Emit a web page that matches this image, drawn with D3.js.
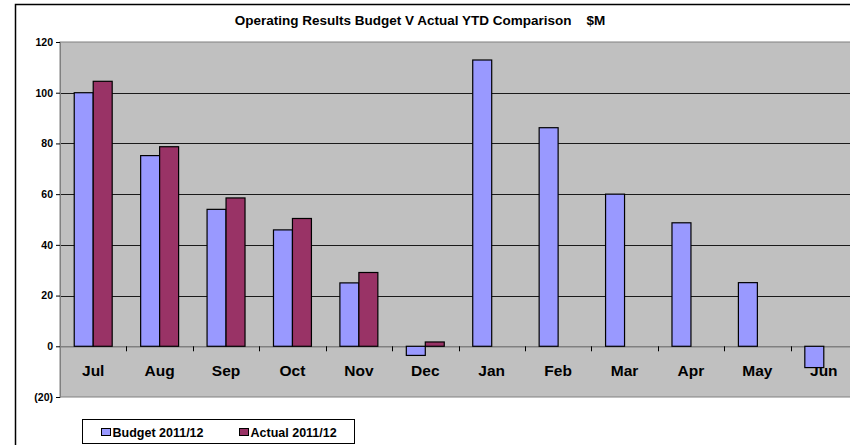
<!DOCTYPE html>
<html>
<head>
<meta charset="utf-8">
<script src="https://cdn.jsdelivr.net/npm/d3@7"></script>
<style>
  body { margin: 0; background: #fff; }
  text { font-family: Arial, "Liberation Sans", sans-serif; font-weight: bold; }
</style>
</head>
<body>
<div id="chart"></div>
<script>
// chart data
const months = ['Jul', 'Aug', 'Sep', 'Oct', 'Nov', 'Dec', 'Jan', 'Feb', 'Mar', 'Apr', 'May', 'Jun'];
const budget = [100, 75.2, 54, 45.9, 25, -3.6, 112.9, 86.2, 60, 48.7, 25.1, -8.4];
const actual = [104.5, 78.7, 58.5, 50.4, 29.1, 1.7, null, null, null, null, null, null];
const seriesNames = ['Budget 2011/12', 'Actual 2011/12'];
const yTicks = [-20, 0, 20, 40, 60, 80, 100, 120];

const WIDTH = 850;
const HEIGHT = 445;
const colors = { 'Budget 2011/12': '#9999FF', 'Actual 2011/12': '#993366' };

const svg = d3.select('#chart').append('svg')
  .attr('width', WIDTH)
  .attr('height', HEIGHT);

// outer chart border (runs off the right/bottom edge like the original)
svg.append('rect')
  .attr('x', 15.5).attr('y', 4.5)
  .attr('width', 880).attr('height', 480)
  .attr('fill', '#fff')
  .attr('stroke', '#000')
  .attr('stroke-width', 1.5);

svg.append('text')
  .attr('x', 420).attr('y', 25)
  .attr('text-anchor', 'middle')
  .attr('font-size', 13.5)
  .attr('xml:space', 'preserve')
  .text('Operating Results Budget V Actual YTD Comparison    $M');

const plotLeft = 60, plotRight = 857, plotTop = 42, plotBottom = 397;

const x0 = d3.scaleBand().domain(months).range([plotLeft, plotRight]);
const x1 = d3.scaleBand().domain(seriesNames).range([0, x0.bandwidth()])
  .paddingInner(0).paddingOuter(0.75);
const y = d3.scaleLinear().domain([-20, 120]).range([plotBottom, plotTop]);

// plot background
svg.append('rect')
  .attr('x', plotLeft).attr('y', plotTop)
  .attr('width', plotRight - plotLeft).attr('height', plotBottom - plotTop)
  .attr('fill', '#C0C0C0')
  .attr('stroke', '#808080')
  .attr('stroke-width', 1);

// gridlines
svg.append('g').selectAll('line')
  .data(yTicks.filter(d => d !== 0 && d !== -20 && d !== 120))
  .enter().append('line')
  .attr('x1', plotLeft).attr('x2', plotRight)
  .attr('y1', d => Math.round(y(d)) + 0.5).attr('y2', d => Math.round(y(d)) + 0.5)
  .attr('stroke', '#1a1a1a');

// y axis
const yAxis = d3.axisLeft(y)
  .tickValues(yTicks)
  .tickSize(4)
  .tickFormat(d => d < 0 ? `(${-d})` : d);
const yg = svg.append('g')
  .attr('transform', `translate(${plotLeft},0)`)
  .call(yAxis);
yg.select('.domain').attr('stroke', '#808080');
yg.selectAll('.tick line').attr('stroke', '#000');
yg.selectAll('.tick text')
  .attr('font-size', 10.5)
  .attr('font-family', 'Arial, "Liberation Sans", sans-serif')
  .attr('font-weight', 'bold')
  .attr('fill', '#000')
  .attr('x', -7);

// category axis on the zero line
const xAxis = d3.axisBottom(x0).tickSize(0).tickPadding(0);
const xg = svg.append('g')
  .attr('transform', `translate(0,${y(0)})`)
  .call(xAxis);
xg.select('.domain').attr('stroke', '#808080').attr('stroke-width', 1.5);
xg.selectAll('.tick text')
  .attr('font-size', 15.5)
  .attr('font-family', 'Arial, "Liberation Sans", sans-serif')
  .attr('font-weight', 'bold')
  .attr('fill', '#000')
  .attr('dy', 0)
  .attr('y', 30);

// tick marks between categories
xg.append('g').selectAll('line')
  .data(months.slice(1))
  .enter().append('line')
  .attr('x1', d => Math.round(x0(d)) + 0.5).attr('x2', d => Math.round(x0(d)) + 0.5)
  .attr('y1', 0).attr('y2', 5)
  .attr('stroke', '#000');

// bars (drawn over the category labels, as in the original)
const rows = months.map((m, i) => ({ month: m, values: [
  { key: seriesNames[0], value: budget[i] },
  { key: seriesNames[1], value: actual[i] }
]}));

const groups = svg.append('g').selectAll('g')
  .data(rows)
  .enter().append('g')
  .attr('transform', d => `translate(${x0(d.month)},0)`);

groups.selectAll('rect')
  .data(d => d.values.filter(v => v.value !== null))
  .enter().append('rect')
  .attr('x', d => x1(d.key))
  .attr('y', d => y(Math.max(0, d.value)))
  .attr('width', x1.bandwidth())
  .attr('height', d => Math.abs(y(d.value) - y(0)))
  .attr('fill', d => colors[d.key])
  .attr('stroke', '#000')
  .attr('stroke-width', 1.2);

// legend
const legend = svg.append('g');
legend.append('rect')
  .attr('x', 82.5).attr('y', 419.5)
  .attr('width', 272).attr('height', 24)
  .attr('fill', '#fff')
  .attr('stroke', '#000');
const legendX = [101, 239];
seriesNames.forEach((s, i) => {
  legend.append('rect')
    .attr('x', legendX[i] + 0.5).attr('y', 428.5)
    .attr('width', 9).attr('height', 7)
    .attr('fill', colors[s])
    .attr('stroke', '#000');
  legend.append('text')
    .attr('x', legendX[i] + 11.5).attr('y', 436.5)
    .attr('font-size', 12.5)
    .text(s);
});
</script>
</body>
</html>
